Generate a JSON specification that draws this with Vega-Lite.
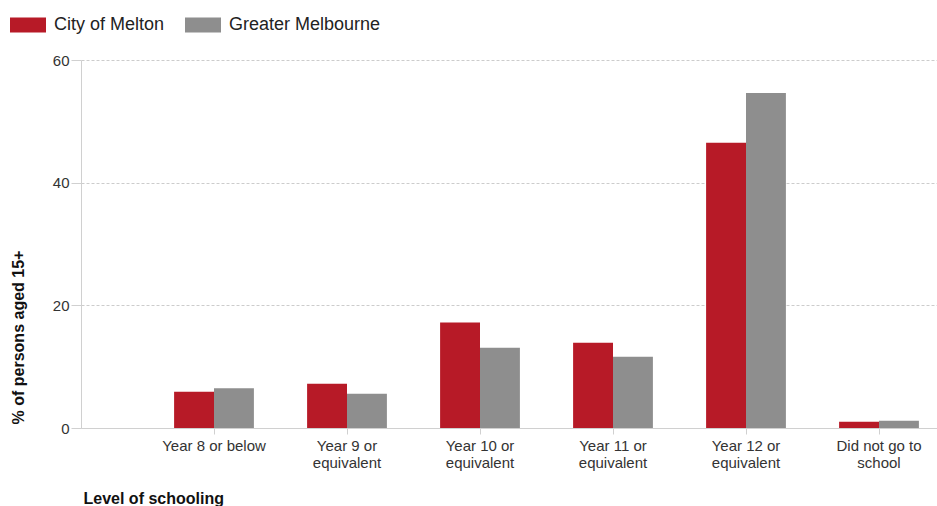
{
  "$schema": "https://vega.github.io/schema/vega-lite/v6.json",
  "autosize": "none",
  "width": 856,
  "height": 368,
  "padding": {"left": 81, "top": 60, "right": 0, "bottom": 78},
  "background": "white",
  "config": {
    "font": "Liberation Sans",
    "view": {"stroke": null}
  },
  "data": {
    "values": [
      {"level": "Year 8 or below", "area": "City of Melton", "pct": 5.9},
      {"level": "Year 8 or below", "area": "Greater Melbourne", "pct": 6.5},
      {"level": "Year 9 or equivalent", "area": "City of Melton", "pct": 7.2},
      {"level": "Year 9 or equivalent", "area": "Greater Melbourne", "pct": 5.6},
      {"level": "Year 10 or equivalent", "area": "City of Melton", "pct": 17.2},
      {"level": "Year 10 or equivalent", "area": "Greater Melbourne", "pct": 13.1},
      {"level": "Year 11 or equivalent", "area": "City of Melton", "pct": 13.9},
      {"level": "Year 11 or equivalent", "area": "Greater Melbourne", "pct": 11.6},
      {"level": "Year 12 or equivalent", "area": "City of Melton", "pct": 46.5},
      {"level": "Year 12 or equivalent", "area": "Greater Melbourne", "pct": 54.6},
      {"level": "Did not go to school", "area": "City of Melton", "pct": 1.0},
      {"level": "Did not go to school", "area": "Greater Melbourne", "pct": 1.2}
    ]
  },
  "mark": {"type": "bar"},
  "encoding": {
    "x": {
      "field": "level",
      "type": "nominal",
      "sort": null,
      "scale": {"range": [0, 931], "paddingInner": 0.4, "paddingOuter": 0.7},
      "axis": {
        "title": "Level of schooling",
        "titleFont": "Liberation Sans",
        "titleFontSize": 16,
        "titleFontWeight": "bold",
        "titleColor": "#111",
        "titleAnchor": "start",
        "titleAlign": "left",
        "titleBaseline": "alphabetic",
        "titleX": 2,
        "titleY": 75,
        "labelAngle": 0,
        "labelFontSize": 15,
        "labelColor": "#333",
        "labelPadding": 4,
        "labelLineHeight": 17,
        "labelExpr": "datum.label == 'Did not go to school' ? ['Did not go to', 'school'] : (indexof(datum.label, ' equivalent') > 0 ? [replace(datum.label, ' equivalent', ''), 'equivalent'] : datum.label)",
        "domainColor": "#d0d0d0",
        "tickColor": "#d0d0d0",
        "tickSize": 6,
        "zindex": 1
      }
    },
    "xOffset": {"field": "area", "type": "nominal", "scale": {"paddingInner": 0, "paddingOuter": 0}},
    "y": {
      "field": "pct",
      "type": "quantitative",
      "scale": {"domain": [0, 60], "nice": false},
      "axis": {
        "title": "% of persons aged 15+",
        "titleFontSize": 16,
        "titleFontWeight": "bold",
        "titleColor": "#111",
        "titleAngle": -90,
        "titleAlign": "center",
        "titleBaseline": "middle",
        "titleX": -63,
        "titleY": 277,
        "values": [0, 20, 40, 60],
        "labelFontSize": 15,
        "labelColor": "#333",
        "labelPadding": 2,
        "tickSize": 10,
        "tickColor": "#d0d0d0",
        "domainColor": "#d0d0d0",
        "gridColor": "#cccccc",
        "gridDash": [3, 2]
      }
    },
    "color": {
      "field": "area",
      "type": "nominal",
      "scale": {"domain": ["City of Melton", "Greater Melbourne"], "range": ["#B71A27", "#8E8E8E"]},
      "legend": {
        "title": null,
        "orient": "none",
        "direction": "horizontal",
        "legendX": -71,
        "legendY": -53,
        "symbolType": "M-1,-0.42H1V0.42H-1Z",
        "symbolSize": 1296,
        "symbolStrokeWidth": 0,
        "labelFontSize": 18,
        "labelColor": "#222",
        "labelOffset": 8,
        "columnPadding": 20,
        "labelLimit": 300
      }
    }
  }
}
